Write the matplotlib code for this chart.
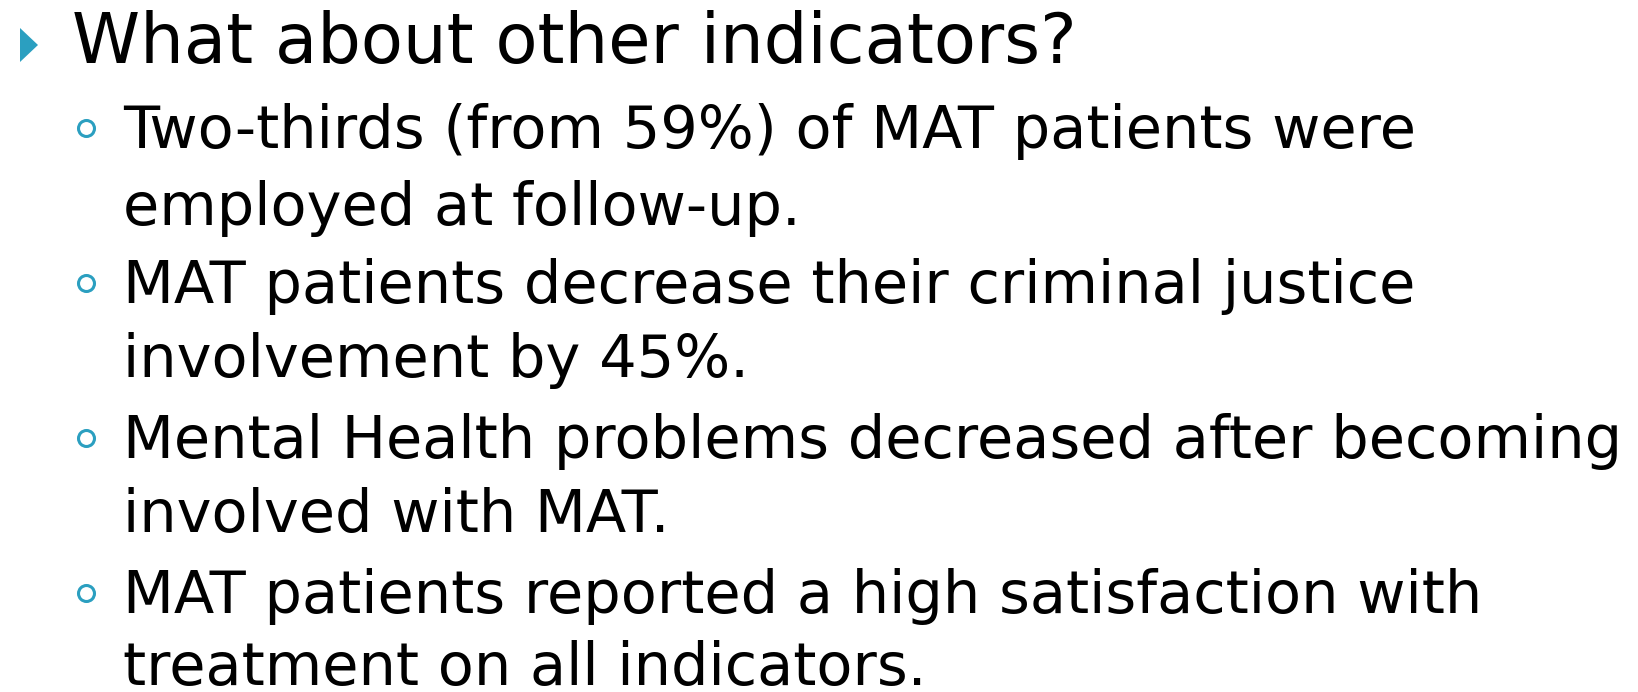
import matplotlib.pyplot as plt
from matplotlib.patches import Polygon

W, H = 1638, 692
BLUE = "#2b9fc0"

title = "What about other indicators?"
bullets = [
    ["Two-thirds (from 59%) of MAT patients were", "employed at follow-up."],
    ["MAT patients decrease their criminal justice", "involvement by 45%."],
    ["Mental Health problems decreased after becoming", "involved with MAT."],
    ["MAT patients reported a high satisfaction with", "treatment on all indicators."],
]
# baselines (px from top) of first and second line of each bullet
first_base = [148, 303, 458, 613]
second_base = [225, 377, 532, 685]

fig = plt.figure(figsize=(W / 100, H / 100), dpi=100)
fig.patch.set_facecolor("white")

def fx(x):
    return x / W

def fy(y):
    return 1 - y / H

# title bullet (triangle)
tri = Polygon([(fx(20), fy(28)), (fx(38), fy(45)), (fx(20), fy(62))],
              closed=True, facecolor=BLUE, edgecolor="none", transform=fig.transFigure)
fig.add_artist(tri)
fig.text(fx(72), fy(63), title, fontsize=49.6, family="DejaVu Sans",
         ha="left", va="baseline", color="black")

for lines, b1, b2 in zip(bullets, first_base, second_base):
    # hollow circle bullet
    fig.lines.append(plt.Line2D([fx(86)], [fy(b1 - 20)], transform=fig.transFigure,
                                marker="o", markersize=11.5, markerfacecolor="none",
                                markeredgecolor=BLUE, markeredgewidth=2.2, linestyle="none"))
    fig.text(fx(123), fy(b1), lines[0], fontsize=42.5, family="DejaVu Sans",
             ha="left", va="baseline", color="black")
    fig.text(fx(123), fy(b2), lines[1], fontsize=42.5, family="DejaVu Sans",
             ha="left", va="baseline", color="black")

fig.savefig("out.png", dpi=100, facecolor="white")
